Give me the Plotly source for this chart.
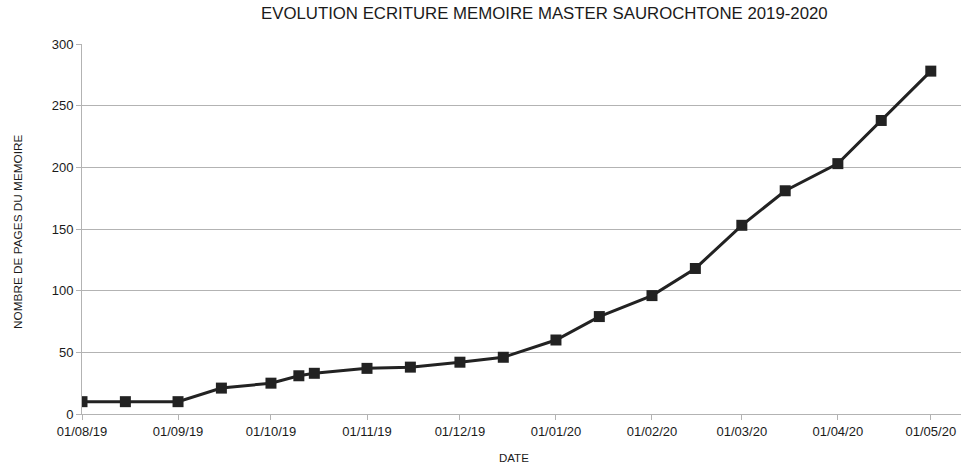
import plotly.graph_objects as go

# Writing progress: date of each check and number of pages written
dates = [
    "2019-08-01", "2019-08-15", "2019-09-01", "2019-09-15", "2019-10-01",
    "2019-10-10", "2019-10-15", "2019-11-01", "2019-11-15", "2019-12-01",
    "2019-12-15", "2020-01-01", "2020-01-15", "2020-02-01", "2020-02-15",
    "2020-03-01", "2020-03-15", "2020-04-01", "2020-04-15", "2020-05-01",
]
pages = [10, 10, 10, 21, 25, 31, 33, 37, 38, 42,
         46, 60, 79, 96, 118, 153, 181, 203, 238, 278]

title_text = "EVOLUTION ECRITURE MEMOIRE MASTER SAUROCHTONE 2019-2020"
x_title = "DATE"
y_title = "NOMBRE DE PAGES DU MEMOIRE"

FONT = "Liberation Sans, Arial, sans-serif"
GRID = "#b3b3b3"
INK = "#222222"

W, H = 961, 468
L, R, T, B = 82, 0, 44, 54

fig = go.Figure(
    go.Scatter(
        x=dates,
        y=pages,
        mode="lines+markers",
        line=dict(color=INK, width=3),
        marker=dict(symbol="square", size=11, color=INK),
        showlegend=False,
    )
)


def page_label(text, px, py, size, angle=0):
    """Label placed by page pixel position, centred on (px, py)."""
    return dict(
        text=text,
        x=(px - L) / (W - L - R),
        y=(H - B - py) / (H - T - B),
        xref="paper",
        yref="paper",
        xanchor="center",
        yanchor="middle",
        textangle=angle,
        showarrow=False,
        font=dict(size=size, color="#1a1a1a"),
    )


fig.update_layout(
    width=W,
    height=H,
    margin=dict(l=L, r=R, t=T, b=B),
    paper_bgcolor="white",
    plot_bgcolor="white",
    font=dict(family=FONT, size=13, color="#1a1a1a"),
    annotations=[
        page_label(title_text, 544, 14, 16.8),
        page_label(x_title, 514, 458, 11.5),
        page_label(y_title, 18, 232, 11.8, angle=-90),
    ],
)

fig.update_xaxes(
    type="date",
    range=["2019-08-01", "2020-05-10 18:00"],
    tick0="2019-08-01",
    dtick="M1",
    tickformat="%d/%m/%y",
    showgrid=False,
    showline=True,
    linecolor=GRID,
    linewidth=1,
    ticks="outside",
    ticklen=5,
    tickcolor=GRID,
    tickfont=dict(size=13, color="#1a1a1a"),
    zeroline=False,
)
fig.update_yaxes(
    range=[0, 300],
    tick0=0,
    dtick=50,
    showgrid=True,
    gridcolor=GRID,
    gridwidth=1,
    showline=True,
    linecolor=GRID,
    linewidth=1,
    ticks="outside",
    ticklen=5,
    tickcolor=GRID,
    tickfont=dict(size=13, color="#1a1a1a"),
    zeroline=False,
)

fig.write_html("out.html")
